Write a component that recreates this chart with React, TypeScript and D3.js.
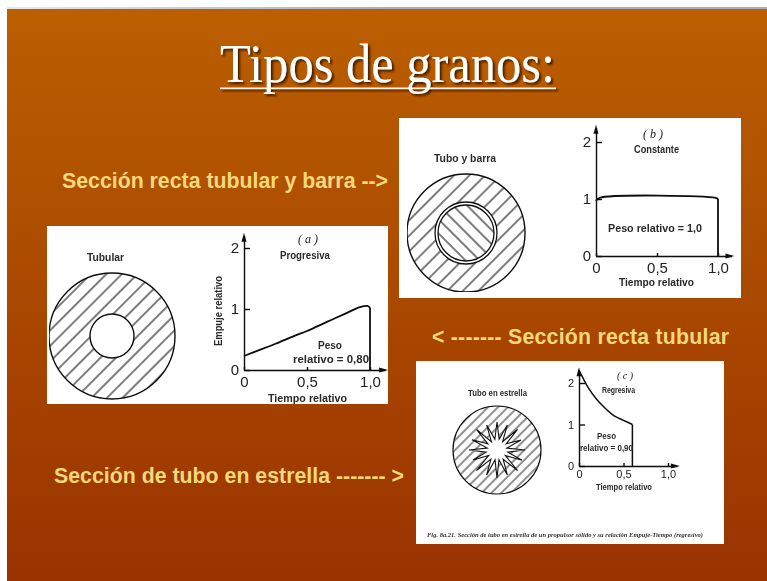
import React, { useEffect, useRef } from 'react'
import * as d3 from 'd3'

// Thrust curves
const progressiveTime = [0, 0.1, 0.25, 0.4, 0.5, 0.65, 0.8, 0.92, 0.98, 1]
const progressiveThrust = [0.23, 0.31, 0.43, 0.56, 0.64, 0.78, 0.92, 1.03, 1.05, 1.02]
const constantTime = [0, 0.03, 0.98, 1]
const constantThrust = [0.97, 1.02, 1.02, 1.0]
const regressiveTime = [0, 0.05, 0.1, 0.2, 0.3, 0.4, 0.5, 0.6]
const regressiveThrust = [2.3, 2.1, 1.9, 1.6, 1.38, 1.2, 1.1, 1.0]

const yTicks = [0, 1, 2]
const xTicks = [0, 0.5, 1]
const xTickLabels = ['0', '0,5', '1,0']

// Star perforation, radius of tip / notch going round the centre
const starRadii = [28, 11, 27, 10, 29, 11, 26, 10, 28, 11, 27, 10, 29, 11, 27, 10, 28, 10, 27, 11, 29, 10, 26, 11, 28, 10, 27, 11, 29, 10, 27, 11]

const lineOf = (xs: number[], ys: number[]) => xs.map((x, i) => [x, ys[i]] as [number, number])

function Plot({ x0, x1, y0, y2, xMax, yMax, time, thrust, fontSize, curve }: any) {
  const ref = useRef<SVGGElement>(null)
  const x = d3.scaleLinear().domain([0, 1]).range([x0, x1])
  const y = d3.scaleLinear().domain([0, 2]).range([y0, y2])

  useEffect(() => {
    const g = d3.select(ref.current)
    g.selectAll('*').remove()
    const xAxis = d3
      .scaleLinear()
      .domain([0, xMax])
      .range([x0, x(xMax)])
    const yAxis = d3
      .scaleLinear()
      .domain([0, yMax])
      .range([y0, y(yMax)])
    const gx = g
      .append('g')
      .attr('transform', `translate(0,${y0})`)
      .call(
        d3
          .axisBottom(xAxis)
          .tickValues(xTicks)
          .tickSizeOuter(0)
          .tickSizeInner(-3)
          .tickPadding(fontSize * 0.4)
          .tickFormat((d: any, i: number) => xTickLabels[i])
      )
    const gy = g
      .append('g')
      .attr('transform', `translate(${x0},0)`)
      .call(
        d3
          .axisLeft(yAxis)
          .tickValues(yTicks)
          .tickSizeOuter(0)
          .tickSizeInner(-6)
          .tickPadding(5)
          .tickFormat((d: any) => String(d))
      )
    ;[gx, gy].forEach((a) => {
      a.attr('font-family', 'Liberation Sans').attr('font-size', fontSize)
      a.selectAll('path,line').attr('stroke', '#111').attr('stroke-width', 1.4)
      a.selectAll('text').attr('fill', '#222')
    })
    // Arrow heads
    const ax = x(xMax)
    const ay = y(yMax)
    g.append('path').attr('d', `M${ax + 3},${y0} L${ax - 6},${y0 - 2.5} L${ax - 6},${y0 + 2.5} Z`).attr('fill', '#111')
    g.append('path').attr('d', `M${x0},${ay - 3} L${x0 - 2.5},${ay + 6} L${x0 + 2.5},${ay + 6} Z`).attr('fill', '#111')
  }, [])

  const shape = d3
    .line<[number, number]>()
    .x((d) => x(d[0]))
    .y((d) => y(d[1]))
    .curve(d3.curveCatmullRom)
  const pts = lineOf(time, thrust)
  const last = pts[pts.length - 1]
  const plain = d3
    .line<[number, number]>()
    .x((d) => x(d[0]))
    .y((d) => y(d[1]))
  return (
    <g>
      <g ref={ref} />
      <path d={shape(pts) || ''} fill="none" stroke="#111" strokeWidth={curve} />
      <path d={plain([last, [last[0], 0]]) || ''} fill="none" stroke="#111" strokeWidth={curve} />
    </g>
  )
}

function Label({ x, y, w, size = 11, children, rotate }: any) {
  return (
    <text
      x={x}
      y={y}
      fontFamily="Liberation Sans"
      fontWeight="bold"
      fontSize={size}
      fill="#2a2a2a"
      textLength={w}
      lengthAdjust="spacingAndGlyphs"
      transform={rotate ? `rotate(${rotate} ${x} ${y})` : undefined}
    >
      {children}
    </text>
  )
}

function Caption({ x, y, w, children }: any) {
  return (
    <text
      x={x}
      y={y}
      fontFamily="Liberation Sans"
      fontWeight="bold"
      fontSize={21.3}
      fill="#f6d87c"
      textLength={w}
      lengthAdjust="spacing"
    >
      {children}
    </text>
  )
}

export default function App() {
  const star = d3
    .lineRadial<number>()
    .angle((d, i) => (i / starRadii.length) * 2 * Math.PI)
    .radius((d) => d)
    .curve(d3.curveLinearClosed)

  return (
    <svg
      width={767}
      height={581}
      viewBox="0 0 767 581"
      style={{ position: 'absolute', left: 0, top: 0 }}
    >
      <defs>
        <linearGradient id="bg" x1="0" y1="0" x2="0" y2="1">
          <stop offset="0" stopColor="#bb5f00" />
          <stop offset="1" stopColor="#993300" />
        </linearGradient>
        <pattern id="hatchA" width="11" height="11" patternUnits="userSpaceOnUse" patternTransform="rotate(-45)">
          <line x1="0" y1="5" x2="11" y2="5" stroke="#111" strokeWidth="1.1" />
        </pattern>
        <pattern id="hatchB" width="10" height="10" patternUnits="userSpaceOnUse" patternTransform="rotate(45)">
          <line x1="0" y1="5" x2="10" y2="5" stroke="#111" strokeWidth="1.1" />
        </pattern>
        <pattern id="hatchC" width="7" height="7" patternUnits="userSpaceOnUse" patternTransform="rotate(-45)">
          <line x1="0" y1="3" x2="7" y2="3" stroke="#222" strokeWidth="1" />
        </pattern>
        <filter id="soft" x="0" y="0" width="1" height="1">
          <feGaussianBlur stdDeviation="0.45" />
        </filter>
        <filter id="titleShadow" x="-5%" y="-20%" width="110%" height="140%">
          <feDropShadow dx="2" dy="2" stdDeviation="0.8" floodColor="#2a0f00" floodOpacity="0.85" />
        </filter>
        <linearGradient id="topbar" x1="0" y1="0" x2="1" y2="0">
          <stop offset="0" stopColor="#e8e8ea" />
          <stop offset="0.5" stopColor="#a8adb8" />
          <stop offset="1" stopColor="#a8adb8" />
        </linearGradient>
      </defs>

      <rect width={767} height={581} fill="#fff" />
      <rect x={7} y={8} width={760} height={573} fill="url(#bg)" />
      <rect x={7} y={7} width={760} height={2} fill="url(#topbar)" />

      {/* Title */}
      <g filter="url(#titleShadow)">
        <text x={220} y={82} fontFamily="Liberation Serif" fontSize={54} fill="#fff" textLength={335} lengthAdjust="spacingAndGlyphs">
          Tipos de granos:
        </text>
        <rect x={220} y={87.5} width={336} height={1.6} fill="#fff6dc" />
      </g>

      <Caption x={62} y={188} w={326}>Sección recta tubular y barra --&gt;</Caption>
      <Caption x={432} y={344} w={297}>&lt; -------  Sección recta tubular</Caption>
      <Caption x={54} y={483} w={350}>Sección de tubo en estrella ------- &gt;</Caption>

      {/* (a) Tubular */}
      <rect x={47} y={226} width={341} height={178} fill="#fff" />
      <g filter="url(#soft)">
        <circle cx={112} cy={336} r={63} fill="url(#hatchA)" stroke="#111" strokeWidth={1.4} />
        <circle cx={112} cy={336} r={22} fill="#fff" stroke="#111" strokeWidth={1.4} />
        <Plot x0={244} x1={370} y0={370} y2={248} xMax={1.12} yMax={2.2} time={progressiveTime} thrust={progressiveThrust} fontSize={15} curve={1.8} />
        <Label x={87} y={261} w={37}>Tubular</Label>
        <Label x={280} y={259} w={50}>Progresiva</Label>
        <text x={298} y={243} fontFamily="Liberation Serif" fontStyle="italic" fontSize={12} fill="#222">( a )</text>
        <Label x={222} y={346} w={70} size={10} rotate={-90}>Empuje relativo</Label>
        <Label x={318} y={349} w={24}>Peso</Label>
        <Label x={293} y={363} w={76}>relativo = 0,80</Label>
        <Label x={268} y={402} w={79}>Tiempo relativo</Label>
      </g>

      {/* (b) Tube and rod */}
      <rect x={399} y={118} width={342} height={180} fill="#fff" />
      <g filter="url(#soft)">
        <circle cx={466} cy={233} r={59} fill="url(#hatchA)" stroke="#111" strokeWidth={1.4} />
        <circle cx={466} cy={233} r={31} fill="#fff" stroke="#111" strokeWidth={1.3} />
        <circle cx={466} cy={233} r={28} fill="url(#hatchB)" stroke="#111" strokeWidth={1.3} />
        <Plot x0={596} x1={718} y0={256} y2={142} xMax={1.11} yMax={2.25} time={constantTime} thrust={constantThrust} fontSize={15} curve={1.8} />
        <Label x={434} y={162} w={62}>Tubo y barra</Label>
        <Label x={634} y={153} w={45}>Constante</Label>
        <text x={643} y={138} fontFamily="Liberation Serif" fontStyle="italic" fontSize={12} fill="#222">( b )</text>
        <Label x={608} y={232} w={94}>Peso relativo = 1,0</Label>
        <Label x={619} y={286} w={75}>Tiempo relativo</Label>
      </g>

      {/* (c) Star */}
      <rect x={416} y={361} width={308} height={183} fill="#fff" />
      <g filter="url(#soft)">
        <circle cx={497} cy={450} r={44} fill="url(#hatchC)" stroke="#111" strokeWidth={1.2} />
        <path transform="translate(497,450)" d={star(starRadii) || ''} fill="#fff" stroke="#111" strokeWidth={1.1} />
        <Plot x0={579} x1={668} y0={466} y2={383} xMax={1.1} yMax={2.31} time={regressiveTime} thrust={regressiveThrust} fontSize={11} curve={1.5} />
        <Label x={468} y={396} w={59} size={9}>Tubo en estrella</Label>
        <Label x={602} y={393} w={33} size={9}>Regresiva</Label>
        <text x={617} y={379} fontFamily="Liberation Serif" fontStyle="italic" fontSize={10} fill="#222">( c )</text>
        <Label x={597} y={439} w={19} size={9}>Peso</Label>
        <Label x={580} y={451} w={53} size={9}>relativo = 0,90</Label>
        <Label x={596} y={490} w={56} size={9}>Tiempo relativo</Label>
        <text x={427} y={537} fontFamily="Liberation Serif" fontStyle="italic" fontWeight="bold" fontSize={6.5} fill="#333" textLength={276} lengthAdjust="spacingAndGlyphs">
          Fig. 8a.21. Sección de tubo en estrella de un propulsor sólido y su relación Empuje-Tiempo (regresivo)
        </text>
      </g>
    </svg>
  )
}
